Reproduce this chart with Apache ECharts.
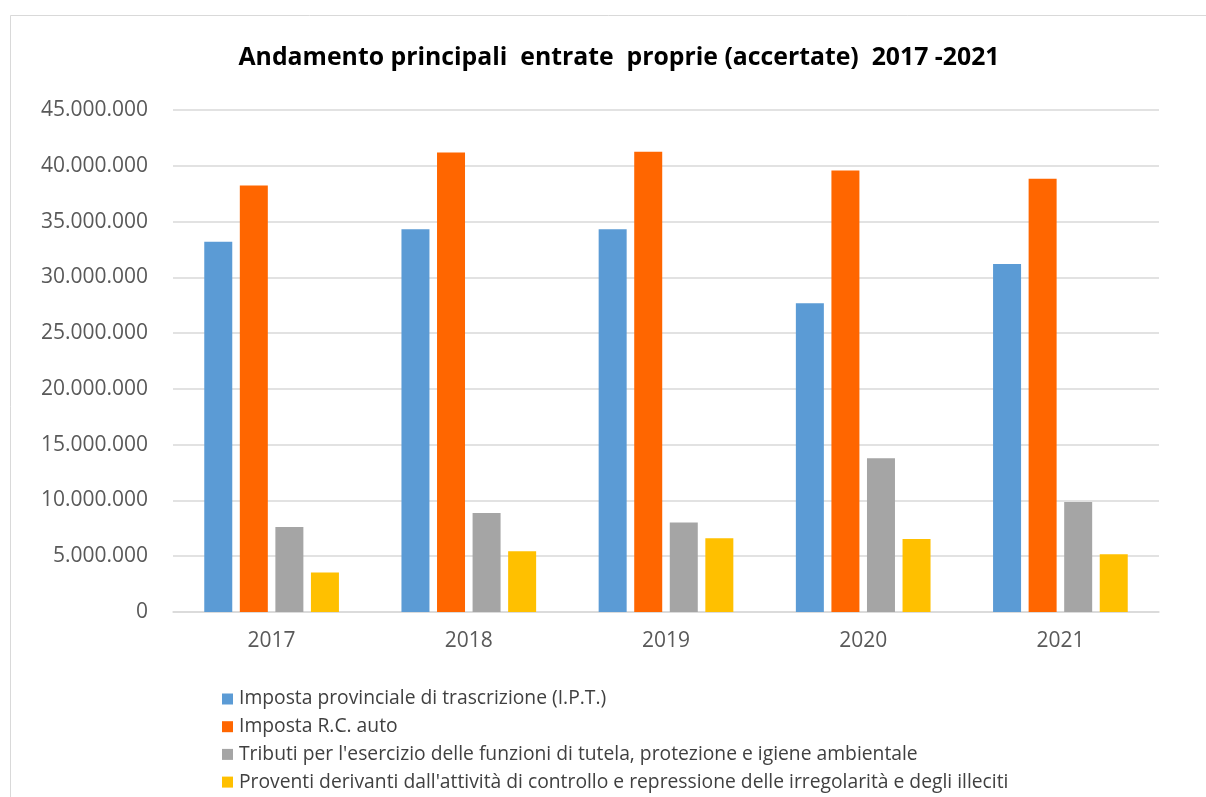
<!DOCTYPE html>
<html><head><meta charset="utf-8">
<script src="https://cdn.jsdelivr.net/npm/echarts@6/dist/echarts.min.js"></script>
<style>html,body{margin:0;padding:0;background:#fff}#c{width:1206px;height:797px}</style>
</head><body><div id="c"></div>
<script>
const years = ['2017','2018','2019','2020','2021'];
const seriesNames = [
  'Imposta provinciale di trascrizione (I.P.T.)',
  'Imposta R.C. auto',
  "Tributi per l'esercizio delle funzioni di tutela, protezione e igiene ambientale",
  "Proventi derivanti dall'attività di controllo e repressione delle irregolarità e degli illeciti"
];
const ipt = [33200000, 34300000, 34320000, 27680000, 31200000];
const rcAuto = [38230000, 41200000, 41260000, 39580000, 38830000];
const tributi = [7620000, 8880000, 8020000, 13790000, 9870000];
const proventi = [3530000, 5440000, 6610000, 6550000, 5180000];
const colors = ['#5B9BD5', '#FF6600', '#A5A5A5', '#FFC000'];
const yTickMax = 45000000, yTickStep = 5000000;

const FONT = 'Open Sans';
const fmt = v => String(v).replace(/\B(?=(\d{3})+(?!\d))/g, '.');
const chart = echarts.init(document.getElementById('c'), null, {renderer: 'canvas'});
const dataSets = [ipt, rcAuto, tributi, proventi];
chart.setOption({
  animation: false,
  backgroundColor: '#fff',
  graphic: [{type: 'rect', shape: {x: 10.5, y: 15.5, width: 1230, height: 820}, style: {fill: 'none', stroke: '#d9d9d9', lineWidth: 1}, silent: true}],
  title: {
    text: 'Andamento principali  entrate  proprie (accertate)  2017 -2021',
    left: 614, top: 40, textAlign: 'center',
    textStyle: {fontFamily: FONT, fontWeight: 'bold', fontSize: 24.8, color: '#000'}
  },
  legend: {
    orient: 'vertical', left: 222, top: 689, itemGap: 7.7, padding: 0,
    itemWidth: 11, itemHeight: 11, icon: 'rect',
    data: seriesNames,
    textStyle: {fontFamily: FONT, fontSize: 19.3, lineHeight: 20, color: '#404040', padding: [0,0,0,1]}
  },
  grid: {left: 173, right: 47, top: 110, bottom: 185},
  xAxis: {
    type: 'category', data: years,
    axisLine: {lineStyle: {color: '#d9d9d9', width: 1.5}},
    axisTick: {show: false},
    axisLabel: {fontFamily: FONT, fontSize: 21, color: '#595959', margin: 19}
  },
  yAxis: {
    type: 'value', min: 0, max: yTickMax, interval: yTickStep,
    axisLine: {show: false}, axisTick: {show: false},
    splitLine: {lineStyle: {color: '#d9d9d9', width: 1.5}},
    axisLabel: {fontFamily: FONT, fontSize: 21, color: '#595959', margin: 25, formatter: fmt}
  },
  series: dataSets.map((d, i) => ({
    name: seriesNames[i], type: 'bar', data: d, barWidth: 28, barGap: '27%',
    itemStyle: {color: colors[i]}
  }))
});
</script></body></html>
